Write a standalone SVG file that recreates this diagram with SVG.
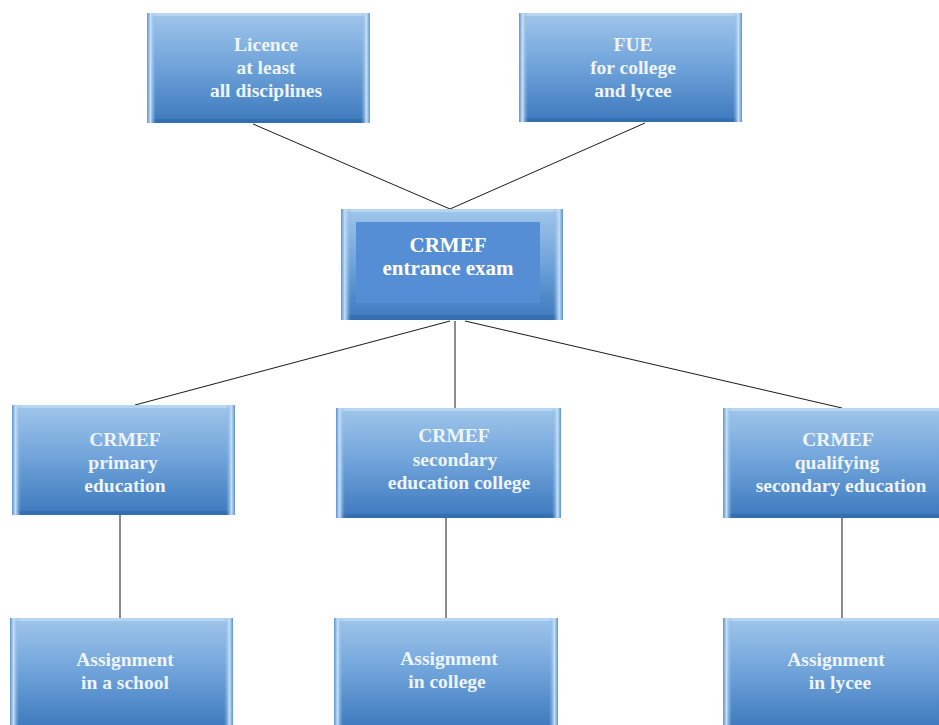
<svg xmlns="http://www.w3.org/2000/svg" width="939" height="725" viewBox="0 0 939 725">
<defs>
<linearGradient id="g" x1="0" y1="0" x2="0" y2="1">
<stop offset="0" stop-color="#a0c6eb"/>
<stop offset="0.5" stop-color="#6ea2d9"/>
<stop offset="1" stop-color="#3d79bd"/>
</linearGradient>
<linearGradient id="edgeL" x1="0" y1="0" x2="1" y2="0">
<stop offset="0" stop-color="#5d93cf"/>
<stop offset="0.4" stop-color="#c6e0f6"/>
<stop offset="1" stop-color="#7eaee0" stop-opacity="0"/>
</linearGradient>
<linearGradient id="edgeR" x1="1" y1="0" x2="0" y2="0">
<stop offset="0" stop-color="#5d93cf"/>
<stop offset="0.4" stop-color="#c6e0f6"/>
<stop offset="1" stop-color="#7eaee0" stop-opacity="0"/>
</linearGradient>
</defs>
<style>
.box{fill:url(#g);}
.el{fill:url(#edgeL);}
.er{fill:url(#edgeR);}
.bot{fill:#2f67a8;opacity:0.6;}
.top{fill:#c3dcf3;opacity:0.7;}
text{font-family:"Liberation Serif","Times New Roman",serif;font-weight:bold;font-size:19.5px;fill:#eef4fb;text-anchor:middle;}
.big{font-size:21px;fill:#ffffff;}
.conn line{stroke:#1a1a1a;stroke-width:1;}
</style>
<rect width="939" height="725" fill="#ffffff"/>
<g class="conn" id="connectors">
<line x1="253" y1="124" x2="450" y2="209"/>
<line x1="645" y1="123" x2="450" y2="209"/>
<line x1="450" y1="321" x2="135" y2="405"/>
<line x1="455" y1="321" x2="455" y2="408"/>
<line x1="465" y1="321" x2="842" y2="408"/>
<line x1="120" y1="515" x2="120" y2="618"/>
<line x1="446" y1="518" x2="446" y2="618"/>
<line x1="842" y1="518" x2="842" y2="620"/>
</g>
<g id="licence">
<rect class="box" x="147" y="13" width="223" height="110"/>
<rect class="top" x="147" y="13" width="223" height="3"/>
<rect class="bot" x="147" y="119" width="223" height="4"/>
<rect class="el" x="147" y="13" width="9" height="110"/>
<rect class="er" x="361" y="13" width="9" height="110"/>
<text x="266" y="51">Licence</text>
<text x="266" y="74">at least</text>
<text x="266" y="97">all disciplines</text>
</g>
<g id="fue">
<rect class="box" x="519" y="13" width="223" height="109"/>
<rect class="top" x="519" y="13" width="223" height="3"/>
<rect class="bot" x="519" y="118" width="223" height="4"/>
<rect class="el" x="519" y="13" width="9" height="109"/>
<rect class="er" x="733" y="13" width="9" height="109"/>
<text x="633" y="51">FUE</text>
<text x="633" y="74">for college</text>
<text x="633" y="97">and lycee</text>
</g>
<g id="entrance">
<rect class="box" x="341" y="209" width="222" height="111"/>
<rect class="top" x="341" y="209" width="222" height="3"/>
<rect class="bot" x="341" y="315" width="222" height="5"/>
<rect class="el" x="341" y="209" width="10" height="111"/>
<rect class="er" x="553" y="209" width="10" height="111"/>
<rect x="356" y="222" width="184" height="81" fill="#558ed5"/>
<text class="big" x="448" y="252">CRMEF</text>
<text class="big" x="448" y="275">entrance exam</text>
</g>
<g id="primary">
<rect class="box" x="12" y="405" width="223" height="110"/>
<rect class="top" x="12" y="405" width="223" height="3"/>
<rect class="bot" x="12" y="511" width="223" height="4"/>
<rect class="el" x="12" y="405" width="9" height="110"/>
<rect class="er" x="226" y="405" width="9" height="110"/>
<text x="125" y="446">CRMEF</text>
<text x="123" y="469">primary</text>
<text x="125" y="492">education</text>
</g>
<g id="secondary">
<rect class="box" x="336" y="408" width="225" height="110"/>
<rect class="top" x="336" y="408" width="225" height="3"/>
<rect class="bot" x="336" y="514" width="225" height="4"/>
<rect class="el" x="336" y="408" width="9" height="110"/>
<rect class="er" x="552" y="408" width="9" height="110"/>
<text x="454" y="442">CRMEF</text>
<text x="455" y="466">secondary</text>
<text x="459" y="489">education college</text>
</g>
<g id="qualifying">
<rect class="box" x="723" y="408" width="220" height="110"/>
<rect class="top" x="723" y="408" width="220" height="3"/>
<rect class="bot" x="723" y="514" width="220" height="4"/>
<rect class="el" x="723" y="408" width="9" height="110"/>
<text x="838" y="446">CRMEF</text>
<text x="837" y="469">qualifying</text>
<text x="841" y="492">secondary education</text>
</g>
<g id="school">
<rect class="box" x="10" y="618" width="223" height="110"/>
<rect class="top" x="10" y="618" width="223" height="3"/>
<rect class="el" x="10" y="618" width="9" height="110"/>
<rect class="er" x="224" y="618" width="9" height="110"/>
<text x="125" y="666">Assignment</text>
<text x="125" y="689">in a school</text>
</g>
<g id="college">
<rect class="box" x="334" y="618" width="224" height="110"/>
<rect class="top" x="334" y="618" width="224" height="3"/>
<rect class="el" x="334" y="618" width="9" height="110"/>
<rect class="er" x="549" y="618" width="9" height="110"/>
<text x="449" y="665">Assignment</text>
<text x="447" y="688">in college</text>
</g>
<g id="lycee">
<rect class="box" x="723" y="618" width="220" height="110"/>
<rect class="top" x="723" y="618" width="220" height="3"/>
<rect class="el" x="723" y="618" width="9" height="110"/>
<text x="836" y="666">Assignment</text>
<text x="840" y="689">in lycee</text>
</g>
</svg>
